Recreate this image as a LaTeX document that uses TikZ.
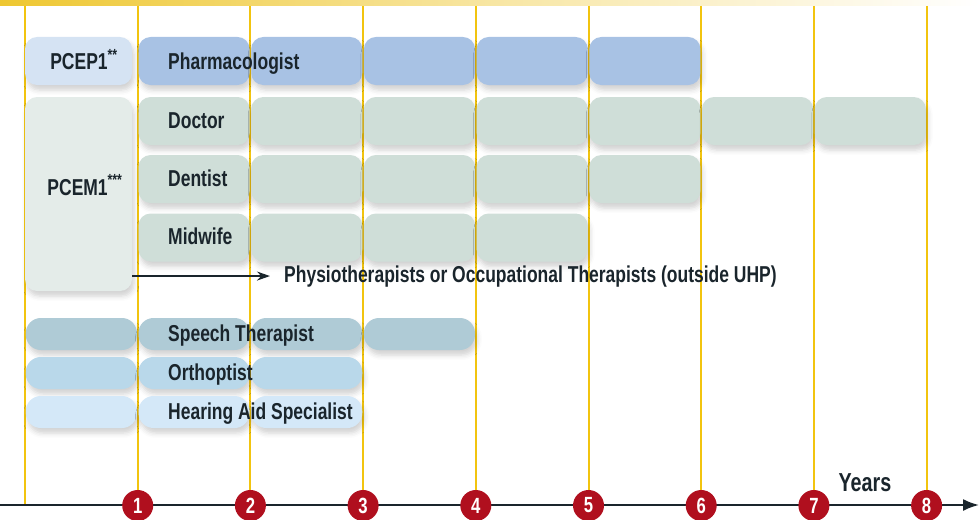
\documentclass[tikz,border=0pt]{standalone}
\usepackage{fontspec}
\newfontfamily\condfont[FakeStretch=0.76]{Liberation Sans}
\usetikzlibrary{arrows.meta,shadows.blur,positioning}

\definecolor{gold}{HTML}{F2C40F}
\definecolor{bandgold}{HTML}{EEC731}
\definecolor{ink}{HTML}{1A252C}
\definecolor{ballred}{HTML}{B00F1E}
\definecolor{pcepcol}{HTML}{D5E3F3}
\definecolor{pharmcol}{HTML}{A8C2E4}
\definecolor{pcemcol}{HTML}{E4ECE9}
\definecolor{medcol}{HTML}{CFDED8}
\definecolor{speechcol}{HTML}{AFCBD6}
\definecolor{orthocol}{HTML}{B9D8EA}
\definecolor{hearcol}{HTML}{D4E8F8}

\def\colw{112.7}

\tikzset{
  seg/.style={rectangle, rounded corners=12pt, minimum width=111pt, minimum height=48pt,
    inner sep=0pt, blur shadow={shadow xshift=2pt, shadow yshift=-5pt, shadow blur radius=5pt, shadow opacity=18}},
  thinseg/.style={seg, minimum height=32pt, rounded corners=15pt},
  lab/.style={anchor=base west, inner sep=0pt, text=ink, font=\condfont\bfseries\fontsize{23}{26}\selectfont},
  yearline/.style={draw=gold, line width=2pt},
  yearball/.style={circle, fill=ballred, minimum size=31pt, inner sep=0pt, text=white,
    font=\condfont\bfseries\fontsize{22}{24}\selectfont},
  axis/.style={draw=ink, line width=2pt, -{Latex[length=16pt,width=12pt]}},
  arr/.style={draw=ink, line width=1.6pt, -{Stealth[length=13pt,width=9pt]}, shorten >=14pt}
}

\begin{document}
\begin{tikzpicture}[x=1pt, y=-1pt]
	\useasboundingbox (0,0) rectangle (979,519);
	% band along the top
	\shade[left color=bandgold, right color=white, middle color=bandgold!45] (0,0) rectangle (979,6);

	% one line per year
	\foreach \k in {0,...,8}
		\draw[yearline] ({25+\colw*\k},6) -- ({25+\colw*\k},505);

	% pharmacy
	\node[seg, fill=pcepcol, minimum width=107pt] (pcep) at (78.5,61) {};
	\foreach \k in {1,...,5}
		\node[seg, fill=pharmcol] (pharm\k) at ({25+\colw*(\k+0.5)},61) {};
	\node[lab, anchor=base] (pceplab) at (84,70) {PCEP1\textsuperscript{**}};
	\node[lab] (pharmlab) at (168,70) {Pharmacologist};

	% medicine, dentistry, midwifery
	\node[seg, fill=pcemcol, minimum width=107pt, minimum height=194pt] (pcem) at (78.5,194) {};
	\foreach \k in {1,...,7}
		\node[seg, fill=medcol] (doc\k) at ({25+\colw*(\k+0.5)},121) {};
	\foreach \k in {1,...,5}
		\node[seg, fill=medcol] (dent\k) at ({25+\colw*(\k+0.5)},179) {};
	\foreach \k in {1,...,4}
		\node[seg, fill=medcol] (mid\k) at ({25+\colw*(\k+0.5)},237.5) {};
	\node[lab, anchor=base] (pcemlab) at (85,195) {PCEM1\textsuperscript{***}};
	\node[lab] (doclab) at (168,128) {Doctor};
	\node[lab] (dentlab) at (168,186) {Dentist};
	\node[lab] (midlab) at (168,244.5) {Midwife};

	\node[lab] (physio) at (284,282) {Physiotherapists or Occupational Therapists (outside UHP)};
	\draw[arr] (pcem.east |- physio.west) -- (physio.west);

	% paramedical
	\foreach \k in {0,...,3}
		\node[thinseg, fill=speechcol] (speech\k) at ({25+\colw*(\k+0.5)},334) {};
	\foreach \k in {0,...,2}
		\node[thinseg, fill=orthocol] (ortho\k) at ({25+\colw*(\k+0.5)},373) {};
	\foreach \k in {0,...,2}
		\node[thinseg, fill=hearcol] (hear\k) at ({25+\colw*(\k+0.5)},412) {};
	\node[lab] (speechlab) at (168,341) {Speech Therapist};
	\node[lab] (ortholab) at (168,380) {Orthoptist};
	\node[lab] (hearlab) at (168,419) {Hearing Aid Specialist};

	% time axis
	\coordinate (axstart) at (0,505);
	\coordinate (axend) at (979,505);
	\draw[axis] (axstart) -- (axend);
	\foreach \k in {1,...,8}
		\node[yearball] (yr\k) at ({25+\colw*\k},505.5) {\k};
	\node[lab, anchor=base, font=\condfont\bfseries\fontsize{26}{28}\selectfont] (years) at (865,491) {Years};
\end{tikzpicture}
\end{document}
